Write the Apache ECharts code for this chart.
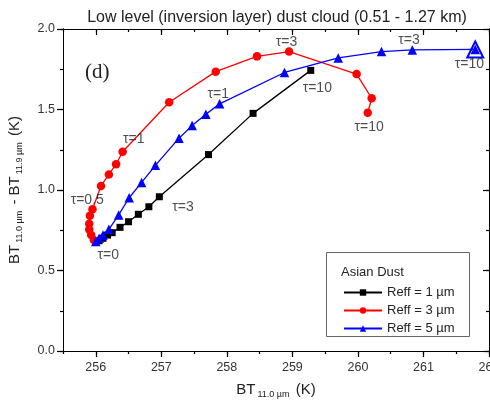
<!DOCTYPE html>
<html>
<head>
<meta charset="utf-8">
<script src="https://cdn.jsdelivr.net/npm/echarts@6/dist/echarts.min.js"></script>
<style>
html,body{margin:0;padding:0;background:#fff;}
#c{width:490px;height:401px;}
</style>
</head>
<body>
<div id="c"></div>
<script>
// Data: [BT11.0 (K), BT11.0 - BT11.9 (K)]
const reff1 = [[256.0,0.68],[256.05,0.685],[256.11,0.70],[256.18,0.72],[256.25,0.735],[256.37,0.768],[256.50,0.803],[256.65,0.849],[256.81,0.896],[256.97,0.958],[257.72,1.22],[258.40,1.476],[259.28,1.743]];
const reff3 = [[256.0,0.68],[255.97,0.69],[255.93,0.72],[255.90,0.755],[255.90,0.79],[255.91,0.84],[255.95,0.88],[256.08,1.025],[256.20,1.097],[256.31,1.16],[256.41,1.238],[257.12,1.545],[257.83,1.735],[258.46,1.83],[258.95,1.86],[259.98,1.72],[260.21,1.57],[260.15,1.48]];
const reff5 = [[256.0,0.68],[256.05,0.70],[256.11,0.72],[256.2,0.756],[256.35,0.845],[256.51,0.952],[256.70,1.047],[256.91,1.153],[257.27,1.322],[257.47,1.40],[257.68,1.47],[257.89,1.535],[258.88,1.73],[259.70,1.82],[260.36,1.86],[260.83,1.87],[261.79,1.873]];
const seriesNames = ['Reff = 1 µm','Reff = 3 µm','Reff = 5 µm'];
const xMajorTicks = [256,257,258,259,260,261,262];
// tau annotations: [x, y, text] in data coordinates
const tauLabels = [
  [258.91,1.916,'τ=3'],[260.78,1.93,'τ=3'],[261.70,1.78,'τ=10'],
  [259.38,1.63,'τ=10'],[260.17,1.39,'τ=10'],[256.58,1.317,'τ=1'],
  [257.87,1.596,'τ=1'],[255.87,0.938,'τ=0.5'],[257.33,0.894,'τ=3'],[256.19,0.596,'τ=0']
];

const FONT = 'Arial, "Liberation Sans", sans-serif';
const chart = echarts.init(document.getElementById('c'));
const lineSt = {show:true,onZero:false,lineStyle:{color:'#000',width:1}};
const nameRich = {
  a:{fontSize:15,color:'#222',fontFamily:FONT},
  s:{fontSize:9,color:'#222',verticalAlign:'bottom',padding:[9,2,0,2],fontFamily:FONT}
};
const tickSt = {color:'#000',width:1.2};
function xAx(pos, interval, len, inside, extra){
  return Object.assign({
    type:'value',min:255.5,max:262,interval:interval,position:pos,
    axisLine:lineSt,splitLine:{show:false},
    axisTick:{show:true,inside:inside,length:len,lineStyle:tickSt},
    axisLabel:{show:false}
  }, extra||{});
}
function yAx(pos, interval, len, inside, extra){
  return Object.assign({
    type:'value',min:0,max:2,interval:interval,position:pos,
    axisLine:lineSt,splitLine:{show:false},
    axisTick:{show:true,inside:inside,length:len,lineStyle:tickSt},
    axisLabel:{show:false}
  }, extra||{});
}
const option = {
  backgroundColor:'#fff',
  animation:false,
  textStyle:{fontFamily:FONT},
  title:{
    text:'Low level (inversion layer) dust cloud (0.51 - 1.27 km)',
    left:272, top:5, textAlign:'center',
    textStyle:{fontSize:16,fontWeight:'normal',color:'#222',fontFamily:FONT}
  },
  grid:{left:63,right:1,top:29,bottom:50,outerBoundsMode:'none'},
  xAxis:[
    xAx('bottom', 0.5, 3, false, {
      axisLabel:{show:true,color:'#333',fontSize:12.5,margin:10,
        formatter:v=>(Math.abs(v-Math.round(v))<1e-6 ? String(Math.round(v)) : '')},
      name:'{a|BT}{s|11.0 µm}{a| (K)}',nameLocation:'middle',nameGap:30,
      nameTextStyle:{rich:nameRich}}),
    xAx('bottom', 0.5, 6, false, {axisTick:{show:true,length:6,lineStyle:tickSt,customValues:xMajorTicks}}),
    xAx('top', 0.5, 3, true),
    xAx('top', 0.5, 6, true, {axisTick:{show:true,inside:true,length:6,lineStyle:tickSt,customValues:xMajorTicks}})
  ],
  yAxis:[
    yAx('left', 0.25, 3, false, {
      axisLabel:{show:true,color:'#333',fontSize:12.5,margin:8,
        formatter:v=>(Math.abs(v*2-Math.round(v*2))<1e-6 ? v.toFixed(1) : '')},
      name:'{a|BT}{s|11.0 µm}{a| - BT}{s|11.9 µm}{a| (K)}',nameLocation:'middle',nameGap:39,nameRotate:90,
      nameTextStyle:{rich:nameRich}}),
    yAx('left', 0.5, 6, false),
    yAx('right', 0.25, 3, true),
    yAx('right', 0.5, 6, true)
  ],
  legend:{
    orient:'vertical',left:338,top:281,itemWidth:38,itemHeight:8,itemGap:5,z:100,
    data:seriesNames,
    textStyle:{fontSize:13,color:'#222',fontFamily:FONT}
  },
  graphic:[
    {type:'rect',left:326,top:252,shape:{width:143,height:84},style:{fill:'#fff',stroke:'#666',lineWidth:1},z:90},
    {type:'text',left:341,top:266,style:{text:'Asian Dust',font:'13px '+FONT,fill:'#222'},z:91},
    {type:'text',left:85,top:62,style:{text:'(d)',font:'21px "Liberation Serif", "DejaVu Serif", serif',fill:'#222'},z:91}
  ],
  series:[
    {name:seriesNames[0],type:'line',data:reff1,symbol:'rect',symbolSize:7,
      lineStyle:{color:'#000',width:1.3},itemStyle:{color:'#000'},z:3},
    {name:seriesNames[1],type:'line',data:reff3,symbol:'circle',symbolSize:8.5,
      lineStyle:{color:'#f00',width:1.3},itemStyle:{color:'#f00'},z:4},
    {name:seriesNames[2],type:'line',data:reff5,symbol:'triangle',symbolSize:9.5,
      lineStyle:{color:'#00f',width:1.3},itemStyle:{color:'#00f'},z:5,
      markPoint:{silent:true,symbol:'triangle',symbolSize:16,
        itemStyle:{color:'rgba(0,0,0,0)',borderColor:'#00f',borderWidth:2},
        label:{show:false},
        data:[{coord:reff5[reff5.length-1]}]}
    },
    {type:'scatter',data:tauLabels.map(t=>({value:[t[0],t[1]],name:t[2]})),symbolSize:0,silent:true,
      label:{show:true,position:'inside',formatter:p=>p.name,fontSize:14,color:'#222',fontFamily:FONT},z:6}
  ]
};
chart.setOption(option);
</script>
</body>
</html>
